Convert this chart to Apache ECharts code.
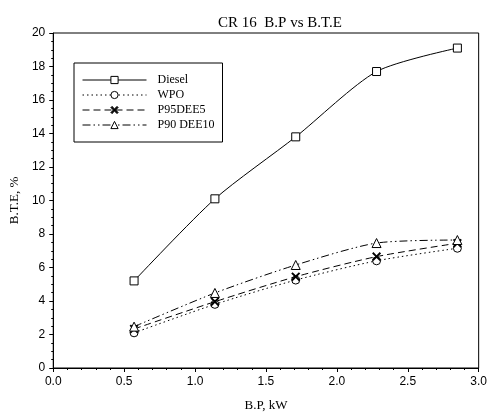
<!DOCTYPE html>
<html><head><meta charset="utf-8">
<script src="https://cdn.jsdelivr.net/npm/echarts@6/dist/echarts.min.js"></script>
<style>html,body{margin:0;padding:0;background:#fff}#c{width:490px;height:417px}</style>
</head><body><div id="c"></div>
<script>
const bp = [0.57, 1.14, 1.71, 2.28, 2.85];
const diesel = [5.2, 10.1, 13.8, 17.7, 19.1];
const wpo = [2.1, 3.8, 5.25, 6.4, 7.15];
const p95dee5 = [2.33, 3.96, 5.45, 6.65, 7.45];
const p90dee10 = [2.47, 4.48, 6.15, 7.46, 7.64];
const seriesNames = ['Diesel', 'WPO', 'P95DEE5', 'P90 DEE10'];
const xTicks = {min: 0, max: 3, interval: 0.5};
const yTicks = {min: 0, max: 20, interval: 2};

const xPath = 'path://M0,1.5 L1.5,0 L5,3.5 L8.5,0 L10,1.5 L6.5,5 L10,8.5 L8.5,10 L5,6.5 L1.5,10 L0,8.5 L3.5,5 Z';
function pts(v){ return bp.map((x,i)=>[x, v[i]]); }
const styles = [
  {data: diesel, symbol: 'rect', size: 8, line: 'solid', fill: '#fff'},
  {data: wpo, symbol: 'circle', size: 8, line: [1.5, 3], fill: '#fff'},
  {data: p95dee5, symbol: xPath, size: 9, line: [7, 4], fill: '#000'},
  {data: p90dee10, symbol: 'triangle', size: 9, line: [8, 3, 1.5, 3, 1.5, 3], fill: '#fff'}
];
const chart = echarts.init(document.getElementById('c'));
chart.setOption({
  animation: false,
  backgroundColor: '#fff',
  title: {text: 'CR 16  B.P vs B.T.E', left: 275, textAlign: 'center', top: 11,
    textStyle: {fontFamily: 'Liberation Serif', fontSize: 15, fontWeight: 'normal', color: '#000'}},
  grid: {left: 47, right: 11, top: 33, bottom: 49, show: true, borderColor: '#000', borderWidth: 1, backgroundColor: 'transparent'},
  legend: {
    orient: 'vertical', left: 74, top: 63, data: seriesNames,
    itemWidth: 64, itemHeight: 9, itemGap: 3,
    borderColor: '#000', borderWidth: 1, padding: [11, 8, 11, 8],
    lineStyle: {width: 1},
    itemStyle: {borderWidth: 1},
    textStyle: {fontFamily: 'Liberation Serif', fontSize: 12, color: '#000', padding: [0, 0, 0, 6], lineHeight: 12}
  },
  xAxis: {
    type: 'value', min: xTicks.min, max: xTicks.max, interval: xTicks.interval,
    name: 'B.P, kW', nameLocation: 'middle', nameGap: 31,
    nameTextStyle: {fontFamily: 'Liberation Serif', fontSize: 13, color: '#000'},
    axisLine: {lineStyle: {color: '#000', width: 1}},
    axisTick: {length: 4, lineStyle: {color: '#000'}},
    minorTick: {show: true, splitNumber: 5, length: 2, lineStyle: {color: '#000'}},
    splitLine: {show: false},
    axisLabel: {formatter: v => v.toFixed(1), fontFamily: 'Liberation Sans', fontSize: 12, color: '#000', margin: 8}
  },
  yAxis: {
    type: 'value', min: yTicks.min, max: yTicks.max, interval: yTicks.interval,
    name: 'B.T.E, %', nameLocation: 'middle', nameGap: 31,
    nameTextStyle: {fontFamily: 'Liberation Serif', fontSize: 13, color: '#000'},
    axisLine: {lineStyle: {color: '#000', width: 1}},
    axisTick: {length: 4, lineStyle: {color: '#000'}},
    minorTick: {show: true, splitNumber: 4, length: 2, lineStyle: {color: '#000'}},
    splitLine: {show: false},
    axisLabel: {fontFamily: 'Liberation Sans', fontSize: 12, color: '#000', margin: 8}
  },
  series: styles.map((s, i) => ({
    name: seriesNames[i], type: 'line', data: pts(s.data), smooth: 0.25,
    symbol: s.symbol, symbolSize: s.size, showAllSymbol: true,
    lineStyle: {color: '#000', width: 1, type: s.line},
    itemStyle: {color: s.fill, borderColor: '#000', borderWidth: s.fill === '#000' ? 0 : 1},
    z: 2 + i
  }))
});
</script></body></html>
